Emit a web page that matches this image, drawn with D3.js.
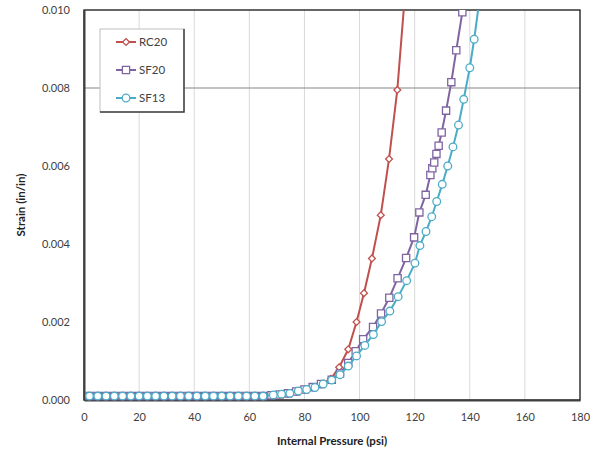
<!DOCTYPE html>
<html>
<head>
<meta charset="utf-8">
<script src="https://cdn.jsdelivr.net/npm/d3@7"></script>
<style>
  body { margin: 0; background: #fff; }
  text { font-family: Lato, "Open Sans", sans-serif; fill: #404040; }
  .axis-title { font-weight: bold; font-size: 11.5px; fill: #222; }
</style>
</head>
<body>
<div id="chart"></div>
<script>
// pressure (psi) / strain (in/in) for each specimen
const rc20Pressure = [2, 5, 8, 11, 14, 17, 20, 23, 26, 29, 32, 35, 38, 41, 44, 47, 50, 53, 56, 59, 62,
  65, 68, 71, 74, 77, 80, 83, 86, 89.6, 92.6, 95.9, 98.9, 101.6, 104.5, 107.7, 110.7, 113.7, 116.7];
const rc20Strain = [0.0001, 0.0001, 0.0001, 0.0001, 0.0001, 0.0001, 0.0001, 0.0001, 0.0001, 0.0001, 0.0001,
  0.0001, 0.0001, 0.0001, 0.0001, 0.0001, 0.0001, 0.0001, 0.0001, 0.0001, 0.0001,
  0.0001, 0.00012, 0.00014, 0.00017, 0.00021, 0.00026, 0.00032, 0.0004, 0.00054, 0.00084,
  0.0013, 0.002, 0.00274, 0.00363, 0.00474, 0.00618, 0.00795, 0.0106];

const sf20Pressure = [2, 5, 8, 11, 14, 17, 20, 23, 26, 29, 32, 35, 38, 41, 44, 47, 50, 53, 56, 59, 62,
  65, 68, 71, 74, 77, 80, 83, 86, 89.9, 92.9, 95.9, 98.6, 101.3, 104.9, 107.8, 110.8, 113.8, 116.9,
  119.8, 121.7, 124.0, 125.7, 126.4, 127.1, 127.9, 128.7, 129.8, 131.4, 133.3, 135.1, 137.3];
const sf20Strain = [0.0001, 0.0001, 0.0001, 0.0001, 0.0001, 0.0001, 0.0001, 0.0001, 0.0001, 0.0001, 0.0001,
  0.0001, 0.0001, 0.0001, 0.0001, 0.0001, 0.0001, 0.0001, 0.0001, 0.0001, 0.0001,
  0.0001, 0.00012, 0.00014, 0.00017, 0.00022, 0.00027, 0.00033, 0.00041, 0.00052, 0.00068,
  0.00095, 0.00125, 0.00156, 0.00187, 0.00222, 0.00262, 0.00312, 0.00364,
  0.00417, 0.00481, 0.00526, 0.00577, 0.00594, 0.00609, 0.00631, 0.00652, 0.00686, 0.00742, 0.00815, 0.00897, 0.00994];

const sf13Pressure = [2, 5, 8, 11, 14, 17, 20, 23, 26, 29, 32, 35, 38, 41, 44, 47, 50, 53, 56, 59, 62,
  65, 68.7, 71.7, 74.7, 77.8, 80.8, 83.8, 86.8, 89.9, 92.9, 95.9, 98.9, 101.9, 105.0, 108.0, 111.0,
  114.0, 117.1, 120.1, 121.9, 124.1, 126.2, 128.0, 130.0, 132.0, 133.9, 135.9, 137.8, 140.0, 141.6, 143.4];
const sf13Strain = [0.0001, 0.0001, 0.0001, 0.0001, 0.0001, 0.0001, 0.0001, 0.0001, 0.0001, 0.0001, 0.0001,
  0.0001, 0.0001, 0.0001, 0.0001, 0.0001, 0.0001, 0.0001, 0.0001, 0.0001, 0.0001,
  0.0001, 0.00013, 0.00015, 0.00017, 0.00023, 0.00027, 0.00032, 0.00041, 0.00051, 0.00065,
  0.00087, 0.00113, 0.0014, 0.00168, 0.00201, 0.00228, 0.00265, 0.00306, 0.00351, 0.00396,
  0.00432, 0.0047, 0.00509, 0.00553, 0.006, 0.00649, 0.00705, 0.00771, 0.00852, 0.00925, 0.0102];

const seriesNames = ['RC20', 'SF20', 'SF13'];
const xTicks = [0, 20, 40, 60, 80, 100, 120, 140, 160, 180];
const yTicks = [0, 0.002, 0.004, 0.006, 0.008, 0.010];

const series = [
  { name: seriesNames[0], color: '#C0504D', symbol: d3.symbolDiamond2, size: 30, p: rc20Pressure, s: rc20Strain },
  { name: seriesNames[1], color: '#8064A2', symbol: d3.symbolSquare, size: 52, p: sf20Pressure, s: sf20Strain },
  { name: seriesNames[2], color: '#4BACC6', symbol: d3.symbolCircle, size: 46, p: sf13Pressure, s: sf13Strain }
];

const width = 597, height = 450;
const margin = { top: 10, right: 17, bottom: 50, left: 84 };
const w = width - margin.left - margin.right;
const h = height - margin.top - margin.bottom;

const svg = d3.select('#chart').append('svg')
  .attr('width', width)
  .attr('height', height);

const x = d3.scaleLinear().domain([0, 180]).range([0, w]);
const y = d3.scaleLinear().domain([0, 0.010]).range([h, 0]);

const plot = svg.append('g')
  .attr('transform', `translate(${margin.left},${margin.top})`);

// vertical gridlines
plot.selectAll('.vgrid')
  .data(xTicks.slice(1, -1))
  .enter().append('line')
  .attr('x1', d => x(d)).attr('x2', d => x(d))
  .attr('y1', 0).attr('y2', h)
  .attr('stroke', '#d9d9d9').attr('stroke-width', 1);

// single horizontal gridline at 0.008
plot.append('line')
  .attr('x1', 0).attr('x2', w)
  .attr('y1', y(0.008)).attr('y2', y(0.008))
  .attr('stroke', '#868686').attr('stroke-width', 1);

// plot frame
plot.append('rect')
  .attr('x', 0).attr('y', 0).attr('width', w).attr('height', h)
  .attr('fill', 'none').attr('stroke', '#000').attr('stroke-width', 1.2);

// axes (labels only)
const xAxis = d3.axisBottom(x).tickValues(xTicks).tickSize(0).tickPadding(13).tickFormat(d3.format('d'));
const yAxis = d3.axisLeft(y).tickValues(yTicks).tickSize(0).tickPadding(14).tickFormat(d3.format('.3f'));

plot.append('g').attr('transform', `translate(0,${h})`).call(xAxis)
  .call(g => g.select('.domain').attr('stroke', '#404040').attr('stroke-width', 2))
  .selectAll('text').style('font-size', '11px').attr('fill', '#404040');
plot.append('g').call(yAxis)
  .call(g => g.select('.domain').attr('stroke', '#404040').attr('stroke-width', 2))
  .selectAll('text').style('font-size', '11px').attr('fill', '#404040');

// clip for data
svg.append('defs').append('clipPath').attr('id', 'clip')
  .append('rect').attr('x', -6).attr('y', 0).attr('width', w + 6).attr('height', h + 6);

const dataG = plot.append('g').attr('clip-path', 'url(#clip)');
const line = d3.line().x(d => x(d[0])).y(d => y(d[1]));

series.forEach(sr => {
  const pts = sr.p.map((p, i) => [p, sr.s[i]]);
  const g = dataG.append('g');
  g.append('path').datum(pts)
    .attr('d', line)
    .attr('fill', 'none')
    .attr('stroke', sr.color)
    .attr('stroke-width', 2);
  g.selectAll('path.pt')
    .data(pts.filter(d => d[1] <= 0.010))
    .enter().append('path')
    .attr('class', 'pt')
    .attr('transform', d => `translate(${x(d[0])},${y(d[1])})`)
    .attr('d', d3.symbol().type(sr.symbol).size(sr.size))
    .attr('fill', '#fff')
    .attr('stroke', sr.color)
    .attr('stroke-width', 1.3);
});

// legend
const legend = plot.append('g').attr('transform', 'translate(16,19)');
legend.append('rect')
  .attr('width', 84).attr('height', 83)
  .attr('fill', '#fff').attr('stroke', '#bfbfbf').attr('stroke-width', 1);
legend.append('path')
  .attr('d', 'M84,0 V83 H0')
  .attr('fill', 'none').attr('stroke', '#404040').attr('stroke-width', 1.5);

series.forEach((sr, i) => {
  const ly = 13 + i * 28;
  legend.append('line')
    .attr('x1', 16).attr('x2', 36).attr('y1', ly).attr('y2', ly)
    .attr('stroke', sr.color).attr('stroke-width', 2);
  legend.append('path')
    .attr('transform', `translate(26,${ly})`)
    .attr('d', d3.symbol().type(sr.symbol).size(sr.size))
    .attr('fill', '#fff').attr('stroke', sr.color).attr('stroke-width', 1.3);
  legend.append('text')
    .attr('x', 39).attr('y', ly).attr('dy', '0.35em')
    .style('font-size', '11.5px').attr('fill', '#222')
    .text(sr.name);
});

// axis titles
svg.append('text')
  .attr('class', 'axis-title')
  .attr('x', margin.left + w / 2).attr('y', 445)
  .attr('text-anchor', 'middle')
  .text('Internal Pressure (psi)');

svg.append('text')
  .attr('class', 'axis-title')
  .attr('transform', `translate(25,${margin.top + h / 2}) rotate(-90)`)
  .attr('text-anchor', 'middle')
  .text('Strain (in/in)');
</script>
</body>
</html>
